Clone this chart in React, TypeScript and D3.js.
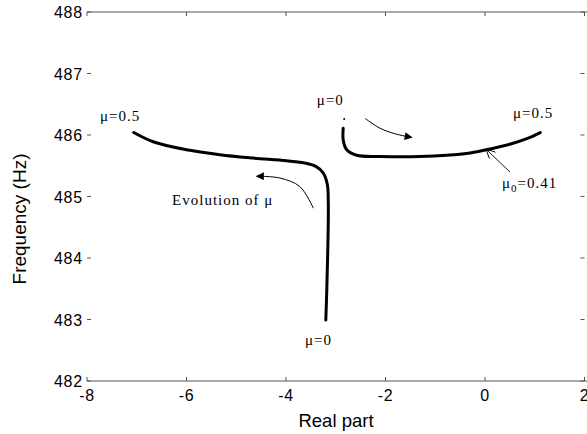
import React, { useEffect, useRef } from 'react';
import * as d3 from 'd3';

// root locus branches
const leftX = [-3.2, -3.18, -3.16, -3.15, -3.17, -3.25, -3.4, -3.6, -3.99, -4.66, -5.33, -6.0, -6.67, -7.06];
const leftY = [482.99, 483.48, 484.13, 484.9, 485.2, 485.38, 485.49, 485.54, 485.58, 485.625, 485.68, 485.76, 485.89, 486.04];
const rightX = [-2.85, -2.85, -2.78, -2.58, -2.11, -1.31, -0.37, 0.03, 0.5, 0.84, 1.11];
const rightY = [486.11, 485.92, 485.76, 485.67, 485.65, 485.65, 485.7, 485.76, 485.85, 485.94, 486.04];
const startDot = [-2.83, 486.26];

const xTicks = [-8, -6, -4, -2, 0, 2];
const yTicks = [482, 483, 484, 485, 486, 487, 488];

// annotation arrows (data coords, tail -> tip)
const arrowEvolution = [[-3.45, 484.81], [-3.72, 485.16], [-4.12, 485.3], [-4.59, 485.33]];
const arrowRight = [[-2.41, 486.27], [-2.11, 486.11], [-1.81, 486.02], [-1.47, 485.96]];
const arrowMu0 = [[0.5, 485.4], [0.02, 485.77]];

function App() {
  const ref = useRef<SVGSVGElement>(null);

  useEffect(() => {
    const W = 587, H = 434;
    const svg = d3.select(ref.current).attr('width', W).attr('height', H);
    svg.selectAll('*').remove();

    const x = d3.scaleLinear().domain([-8, 2]).range([87, 584.5]);
    const y = d3.scaleLinear().domain([482, 488]).range([381, 12]);

    const defs = svg.append('defs');
    defs.append('marker')
      .attr('id', 'tri')
      .attr('viewBox', '0 0 10 10')
      .attr('refX', 9).attr('refY', 5)
      .attr('markerWidth', 11).attr('markerHeight', 8)
      .attr('markerUnits', 'userSpaceOnUse')
      .attr('orient', 'auto')
      .append('path').attr('d', 'M0,0 L10,5 L0,10 Z').attr('fill', '#000');
    defs.append('marker')
      .attr('id', 'open')
      .attr('viewBox', '0 0 10 10')
      .attr('refX', 10).attr('refY', 5)
      .attr('markerWidth', 11).attr('markerHeight', 9)
      .attr('markerUnits', 'userSpaceOnUse')
      .attr('orient', 'auto')
      .append('path').attr('d', 'M0,0 L10,5 L0,10').attr('fill', 'none').attr('stroke', '#000').attr('stroke-width', 1);

    const axisColor = '#555';
    // top / bottom box lines
    svg.append('line').attr('x1', 87).attr('x2', W).attr('y1', y(488)).attr('y2', y(488))
      .attr('stroke', axisColor).attr('stroke-width', 1);
    svg.append('line').attr('x1', 87).attr('x2', W).attr('y1', y(482)).attr('y2', y(482))
      .attr('stroke', axisColor).attr('stroke-width', 1);

    // inward ticks
    const tk = 4;
    xTicks.forEach(t => {
      svg.append('line').attr('x1', x(t)).attr('x2', x(t)).attr('y1', y(488)).attr('y2', y(488) + tk).attr('stroke', axisColor);
      svg.append('line').attr('x1', x(t)).attr('x2', x(t)).attr('y1', y(482)).attr('y2', y(482) - tk).attr('stroke', axisColor);
    });
    yTicks.forEach(t => {
      svg.append('line').attr('x1', x(-8)).attr('x2', x(-8) + tk).attr('y1', y(t)).attr('y2', y(t)).attr('stroke', axisColor);
      svg.append('line').attr('x1', x(2) - tk).attr('x2', x(2)).attr('y1', y(t)).attr('y2', y(t)).attr('stroke', axisColor);
    });

    const sans = 'Liberation Sans, Arial, Helvetica, sans-serif';
    const serif = 'Liberation Serif, Times New Roman, serif';

    svg.append('g').selectAll('text').data(xTicks).enter().append('text')
      .attr('x', d => x(d)).attr('y', 401)
      .attr('text-anchor', 'middle')
      .attr('font-family', sans).attr('font-size', 16).attr('letter-spacing', 0.6)
      .text(d => String(d));
    svg.append('g').selectAll('text').data(yTicks).enter().append('text')
      .attr('x', 83).attr('y', d => y(d) + 6)
      .attr('text-anchor', 'end')
      .attr('font-family', sans).attr('font-size', 16).attr('letter-spacing', 0.8)
      .text(d => String(d));

    svg.append('text').attr('x', 336).attr('y', 427).attr('text-anchor', 'middle')
      .attr('font-family', sans).attr('font-size', 18.5).text('Real part');
    svg.append('text').attr('transform', 'translate(26,219) rotate(-90)').attr('text-anchor', 'middle')
      .attr('font-family', sans).attr('font-size', 19).text('Frequency (Hz)');

    // branches
    const line = d3.line<[number, number]>().x(d => x(d[0])).y(d => y(d[1])).curve(d3.curveCatmullRom.alpha(0.5));
    const left = leftX.map((v, i) => [v, leftY[i]] as [number, number]);
    const right = rightX.map((v, i) => [v, rightY[i]] as [number, number]);
    [left, right].forEach(pts => {
      svg.append('path').attr('d', line(pts)).attr('fill', 'none').attr('stroke', '#000')
        .attr('stroke-width', 3).attr('stroke-linecap', 'round').attr('stroke-linejoin', 'round');
    });
    svg.append('circle').attr('cx', x(startDot[0])).attr('cy', y(startDot[1])).attr('r', 1).attr('fill', '#000');

    // arrows
    svg.append('path').attr('d', line(arrowEvolution as [number, number][])).attr('fill', 'none')
      .attr('stroke', '#000').attr('stroke-width', 1).attr('marker-end', 'url(#tri)');
    svg.append('path').attr('d', line(arrowRight as [number, number][])).attr('fill', 'none')
      .attr('stroke', '#000').attr('stroke-width', 1).attr('marker-end', 'url(#tri)');
    svg.append('path').attr('d', d3.line<number[]>().x(d => x(d[0])).y(d => y(d[1]))(arrowMu0)).attr('fill', 'none')
      .attr('stroke', '#000').attr('stroke-width', 0.9).attr('marker-end', 'url(#open)');

    // labels
    const label = (xv: number, yv: number, txt: string) =>
      svg.append('text').attr('x', x(xv)).attr('y', y(yv))
        .attr('font-family', serif).attr('font-size', 15).attr('letter-spacing', 1).text(txt);
    label(-7.74, 486.22, 'μ=0.5');
    label(-6.29, 484.86, 'Evolution of μ');
    label(-3.38, 486.49, 'μ=0');
    label(0.563, 486.28, 'μ=0.5');
    label(-3.62, 482.59, 'μ=0');
    const sub = svg.append('text').attr('x', x(0.34)).attr('y', y(485.14))
      .attr('font-family', serif).attr('font-size', 15).attr('letter-spacing', 1);
    sub.append('tspan').text('μ');
    sub.append('tspan').attr('font-size', 11).attr('dy', 4).text('0');
    sub.append('tspan').attr('dy', -4).text('=0.41');
  }, []);

  return (
    <div style={{ position: 'absolute', left: 0, top: 0, background: '#fff' }}>
      <svg ref={ref}></svg>
    </div>
  );
}

export default App;
